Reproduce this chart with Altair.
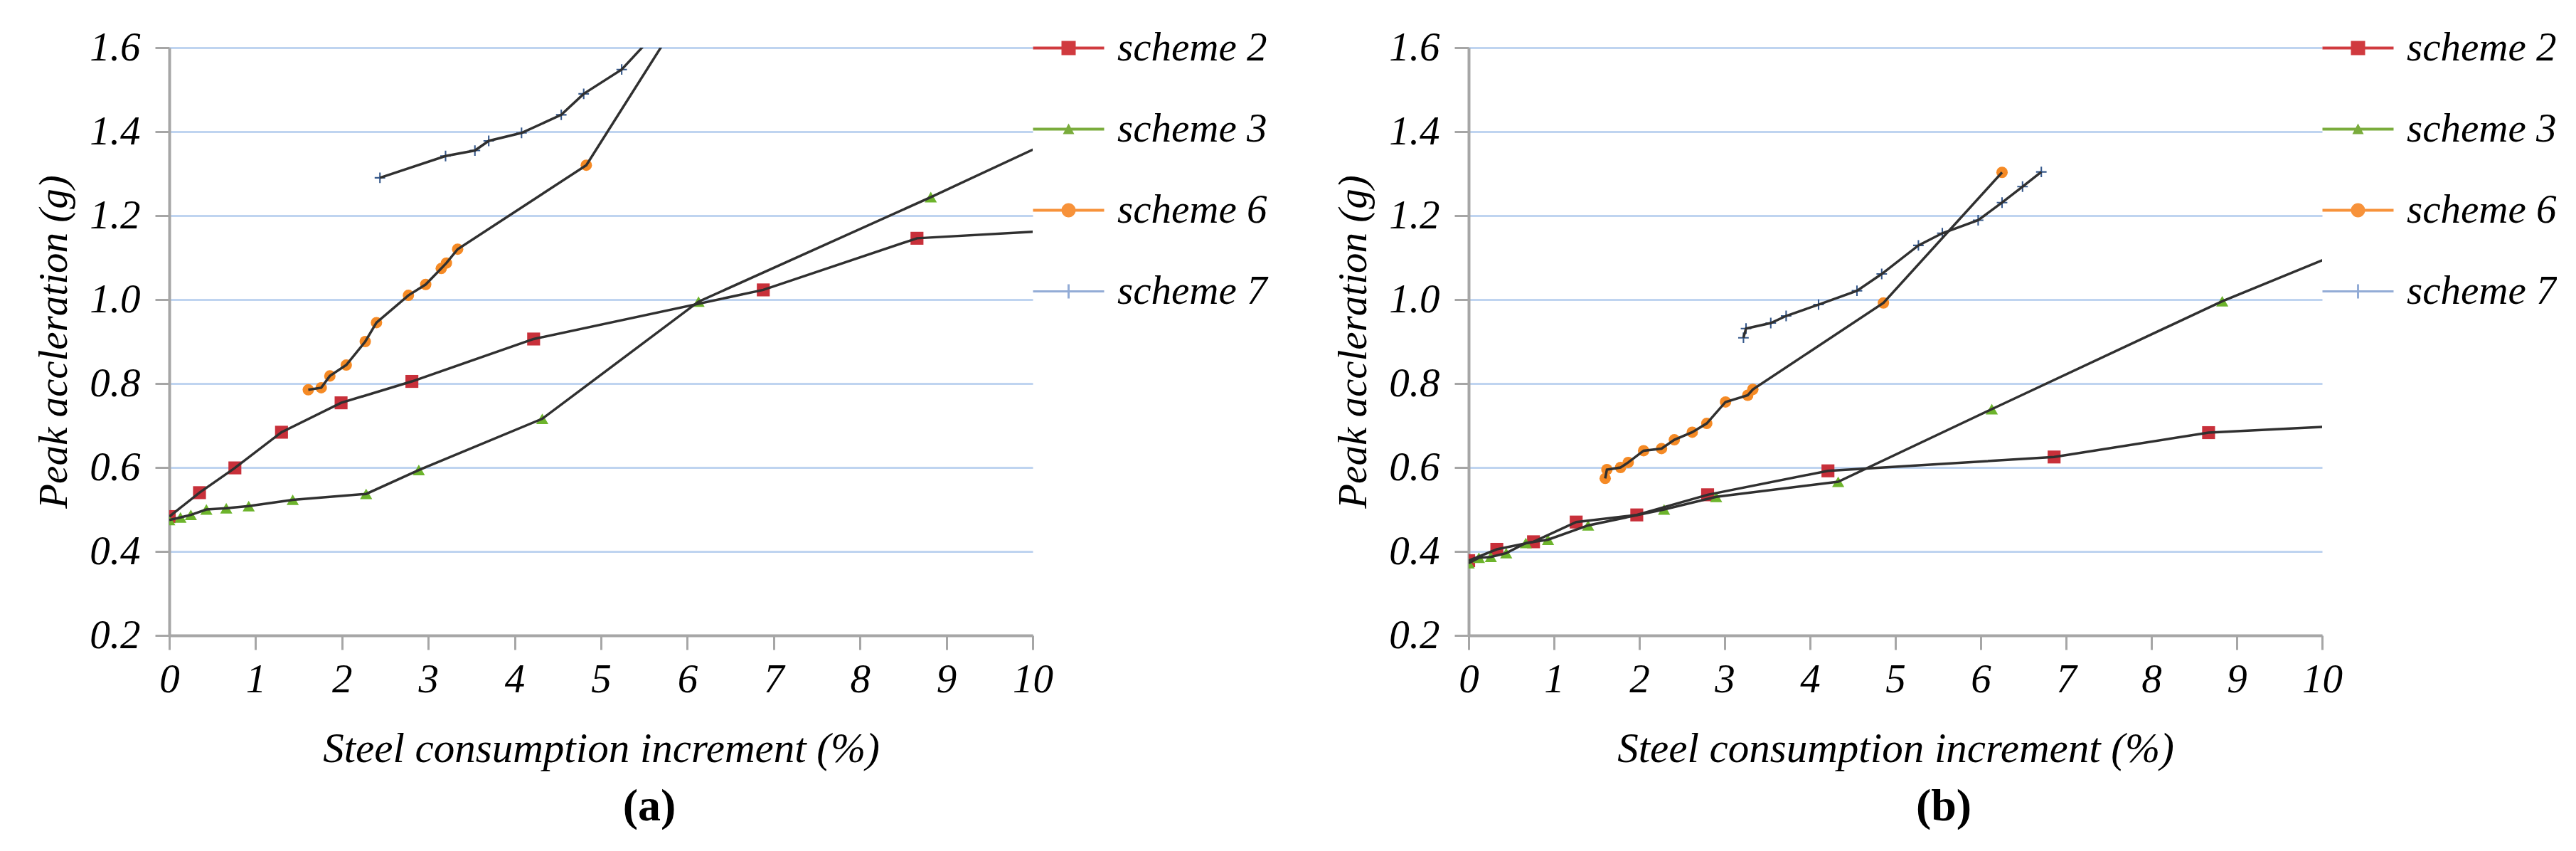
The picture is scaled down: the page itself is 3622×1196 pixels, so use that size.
import altair as alt
import pandas as pd

SERIES = ["scheme 2", "scheme 3", "scheme 6", "scheme 7"]
X_TICKS = [0, 1, 2, 3, 4, 5, 6, 7, 8, 9, 10]
Y_TICKS = [0.2, 0.4, 0.6, 0.8, 1.0, 1.2, 1.4, 1.6]

# ---- panel (a) ----
A_S2_X = [0.0, 0.35, 0.76, 1.30, 1.99, 2.81, 4.22, 6.88, 8.66, 10.5]
A_S2_Y = [0.483, 0.540, 0.599, 0.684, 0.754, 0.805, 0.906, 1.023, 1.146, 1.167]
A_S3_X = [0.0, 0.13, 0.25, 0.43, 0.66, 0.92, 1.43, 2.28, 2.89, 4.32, 6.13, 8.82, 10.5]
A_S3_Y = [0.475, 0.481, 0.487, 0.500, 0.503, 0.508, 0.523, 0.537, 0.594, 0.716, 0.995, 1.244, 1.405]
A_S6_X = [1.61, 1.76, 1.86, 2.05, 2.27, 2.40, 2.77, 2.97, 3.15, 3.21, 3.34, 4.83, 6.0]
A_S6_Y = [0.785, 0.790, 0.818, 0.844, 0.900, 0.945, 1.010, 1.036, 1.074, 1.087, 1.120, 1.320, 1.700]
A_S7_X = [2.44, 3.20, 3.54, 3.70, 4.08, 4.54, 4.80, 5.24, 5.70]
A_S7_Y = [1.290, 1.342, 1.355, 1.378, 1.397, 1.440, 1.490, 1.548, 1.650]

# ---- panel (b) ----
B_S2_X = [0.0, 0.33, 0.76, 1.26, 1.97, 2.80, 4.21, 6.86, 8.67, 10.5]
B_S2_Y = [0.378, 0.405, 0.423, 0.470, 0.487, 0.535, 0.592, 0.625, 0.683, 0.702]
B_S3_X = [0.0, 0.12, 0.26, 0.44, 0.67, 0.93, 1.40, 2.29, 2.90, 4.33, 6.13, 8.83, 10.5]
B_S3_Y = [0.372, 0.385, 0.387, 0.396, 0.420, 0.428, 0.462, 0.500, 0.530, 0.566, 0.739, 0.996, 1.135]
B_S6_X = [1.60, 1.62, 1.78, 1.87, 2.05, 2.26, 2.41, 2.62, 2.79, 3.01, 3.27, 3.33, 4.86, 6.25]
B_S6_Y = [0.574, 0.595, 0.600, 0.612, 0.640, 0.645, 0.666, 0.684, 0.705, 0.756, 0.772, 0.786, 0.992, 1.303]
B_S7_X = [3.22, 3.25, 3.54, 3.72, 4.10, 4.55, 4.84, 5.27, 5.55, 5.97, 6.25, 6.49, 6.71]
B_S7_Y = [0.909, 0.931, 0.944, 0.961, 0.988, 1.021, 1.061, 1.129, 1.158, 1.189, 1.231, 1.269, 1.304]

MARK_COLORS = ["#c8303a", "#6db42c", "#f58a25", "#36598c"]
LEG_COLORS = ["#d03a3f", "#7aac3c", "#f7923a", "#93acd6"]
MARK_SHAPES = ["square", "triangle-up", "circle",
               "M-1,-0.14H-0.14V-1H0.14V-0.14H1V0.14H0.14V1H-0.14V0.14H-1Z"]
MARK_SIZES = [330, 220, 210, 160]
LEG_SHAPES = [
    "M-5,-0.2H-1V-1H1V-0.2H5V0.2H1V1H-1V0.2H-5Z",
    "M-5,-0.2H5V0.2H-5Z M0,-0.8L0.8,0.7H-0.8Z",
    "M-5,-0.2H5V0.2H-5Z M1,0A1,1,0,1,1,-1,0A1,1,0,1,1,1,0Z",
    "M-5,-0.15H5V0.15H-5Z M-0.15,-1H0.15V1H-0.15Z",
]

FONT = "Liberation Serif"
AXIS_GRAY = "#a6a6a6"


def frame(sets):
    rows = []
    for name, xs, ys in sets:
        for i, (x, y) in enumerate(zip(xs, ys)):
            rows.append({"series": name, "x": x, "y": y, "order": i})
    return pd.DataFrame(rows)


def panel(df, width, legend_x, tag):
    xenc = alt.X(
        "x:Q",
        scale=alt.Scale(domain=[0, 10], nice=False),
        axis=alt.Axis(
            values=X_TICKS, title="Steel consumption increment (%)", grid=False,
            labelFont=FONT, labelFontStyle="italic", labelFontSize=57, labelColor="black",
            labelPadding=14, labelFlush=False, labelOverlap=False,
            tickSize=20, tickWidth=3, tickColor=AXIS_GRAY,
            domainColor=AXIS_GRAY, domainWidth=4,
            titleFont=FONT, titleFontStyle="italic", titleFontWeight="normal",
            titleFontSize=59, titleColor="black", titlePadding=40,
        ),
    )
    yenc = alt.Y(
        "y:Q",
        scale=alt.Scale(domain=[0.2, 1.6], nice=False, zero=False),
        axis=alt.Axis(
            values=Y_TICKS, format=".1f", title="Peak accleration (g)", grid=True,
            gridColor="#bfd4f0", gridWidth=3,
            labelFont=FONT, labelFontStyle="italic", labelFontSize=57, labelColor="black",
            labelPadding=21, labelFlush=False, labelOverlap=False,
            tickSize=20, tickWidth=3, tickColor=AXIS_GRAY,
            domainColor=AXIS_GRAY, domainWidth=4,
            titleFont=FONT, titleFontStyle="italic", titleFontWeight="normal",
            titleFontSize=57, titleColor="black", titlePadding=20,
        ),
    )
    base = alt.Chart(df)
    pts = base.mark_point(filled=True, opacity=1, strokeWidth=0, clip=True).encode(
        x=xenc, y=yenc,
        color=alt.Color("series:N", scale=alt.Scale(domain=SERIES, range=MARK_COLORS), legend=None),
        shape=alt.Shape("series:N", scale=alt.Scale(domain=SERIES, range=MARK_SHAPES), legend=None),
        size=alt.Size("series:N", scale=alt.Scale(domain=SERIES, range=MARK_SIZES), legend=None),
    )
    lines = base.mark_line(color="#303030", strokeWidth=3.5, clip=True).encode(
        x=xenc, y=yenc, detail="series:N", order="order:Q"
    )
    leg_params = dict(
        orient="none", legendX=legend_x, legendY=-28, padding=0,
        labelFont=FONT, labelFontStyle="italic", labelFontSize=57, labelColor="black",
        labelOffset=40, labelLimit=500, rowPadding=56,
        symbolSize=400, symbolStrokeWidth=0, symbolOpacity=1,
    )
    leg = base.transform_filter("datum.x < -100").mark_point(filled=True, opacity=1, strokeWidth=0).encode(
        x=xenc, y=yenc,
        color=alt.Color("series:N", title=None,
                        scale=alt.Scale(domain=SERIES, range=LEG_COLORS),
                        legend=alt.Legend(**leg_params)),
        shape=alt.Shape("series:N", title=None,
                        scale=alt.Scale(domain=SERIES, range=LEG_SHAPES),
                        legend=alt.Legend(**leg_params)),
    )
    return alt.layer(pts, lines, leg).resolve_scale(
        color="independent", shape="independent", size="independent"
    ).properties(
        width=width, height=826,
        title=alt.TitleParams(text=tag, orient="bottom", font=FONT, fontSize=64,
                              fontWeight="bold", color="black", dx=68, offset=20),
    )


df_a = frame([("scheme 2", A_S2_X, A_S2_Y), ("scheme 3", A_S3_X, A_S3_Y),
              ("scheme 6", A_S6_X, A_S6_Y), ("scheme 7", A_S7_X, A_S7_Y)])
df_b = frame([("scheme 2", B_S2_X, B_S2_Y), ("scheme 3", B_S3_X, B_S3_Y),
              ("scheme 6", B_S6_X, B_S6_Y), ("scheme 7", B_S7_X, B_S7_Y)])

chart = alt.hconcat(
    panel(df_a, 1214, 1236, "(a)"),
    panel(df_b, 1200, 1222, "(b)"),
    spacing=92,
).resolve_scale(
    color="independent", shape="independent", size="independent", x="independent", y="independent"
).resolve_legend(
    color="independent", shape="independent"
).properties(
    padding={"left": 39, "top": 30, "right": 0, "bottom": 0},
    background="white",
).configure_view(strokeWidth=0)

chart.save("out.html", embed_options={"renderer": "svg", "actions": False})
